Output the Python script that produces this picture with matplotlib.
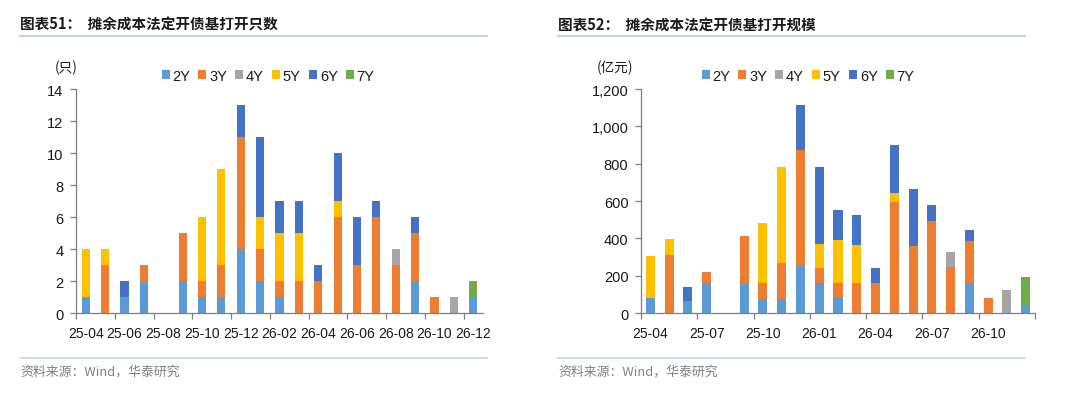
import matplotlib
matplotlib.use("Agg")
import matplotlib.pyplot as plt
import numpy as np
from matplotlib.ticker import FuncFormatter

plt.rcParams['font.family'] = ['Liberation Sans', 'Noto Sans CJK SC', 'DejaVu Sans']

months = ["25-04", "25-05", "25-06", "25-07", "25-08", "25-09", "25-10", "25-11", "25-12",
          "26-01", "26-02", "26-03", "26-04", "26-05", "26-06", "26-07", "26-08", "26-09",
          "26-10", "26-11", "26-12"]
series_names = ["2Y", "3Y", "4Y", "5Y", "6Y", "7Y"]
colors = ["#5B9BD5", "#ED7D31", "#A5A5A5", "#FFC000", "#4472C4", "#70AD47"]

# Chart 51: counts
cnt_2y = [1, 0, 1, 2, 0, 2, 1, 1, 4, 2, 1, 0, 0, 0, 0, 0, 0, 2, 0, 0, 1]
cnt_3y = [0, 3, 0, 1, 0, 3, 1, 2, 7, 2, 1, 2, 2, 6, 3, 6, 3, 3, 1, 0, 0]
cnt_4y = [0, 0, 0, 0, 0, 0, 0, 0, 0, 0, 0, 0, 0, 0, 0, 0, 1, 0, 0, 1, 0]
cnt_5y = [3, 1, 0, 0, 0, 0, 4, 6, 0, 2, 3, 3, 0, 1, 0, 0, 0, 0, 0, 0, 0]
cnt_6y = [0, 0, 1, 0, 0, 0, 0, 0, 2, 5, 2, 2, 1, 3, 3, 1, 0, 1, 0, 0, 0]
cnt_7y = [0, 0, 0, 0, 0, 0, 0, 0, 0, 0, 0, 0, 0, 0, 0, 0, 0, 0, 0, 0, 1]

# Chart 52: size (100 million yuan)
amt_2y = [78, 0, 64, 160, 0, 160, 77, 77, 255, 160, 78, 0, 0, 0, 0, 0, 0, 160, 0, 0, 41]
amt_3y = [0, 312, 0, 59, 0, 250, 83, 190, 618, 81, 82, 160, 160, 592, 360, 494, 246, 227, 80, 0, 0]
amt_4y = [0, 0, 0, 0, 0, 0, 0, 0, 0, 0, 0, 0, 0, 0, 0, 0, 82, 0, 0, 123, 0]
amt_5y = [227, 84, 0, 0, 0, 0, 321, 514, 0, 128, 229, 202, 0, 51, 0, 0, 0, 0, 0, 0, 0]
amt_6y = [0, 0, 77, 0, 0, 0, 0, 0, 241, 414, 165, 162, 81, 257, 305, 82, 0, 60, 0, 0, 0]
amt_7y = [0, 0, 0, 0, 0, 0, 0, 0, 0, 0, 0, 0, 0, 0, 0, 0, 0, 0, 0, 0, 150]

W, H = 1080, 414
fig = plt.figure(figsize=(W / 100, H / 100), dpi=100)

def px(x0, y0, x1, y1):
    return [x0 / W, 1 - y1 / H, (x1 - x0) / W, (y1 - y0) / H]

cjk = ['Noto Sans CJK SC', 'DejaVu Sans']

def panel(x_off, title, unit, unit_x, ax_rect, data, ylim, yticks, step, barw, fmt, leg_x):
    # title and rules
    fig.text((x_off) / W, 1 - 25 / H, title, family=cjk, fontsize=10.5, fontweight='bold',
             va='center', ha='left', color='#1a1a1a')
    fig.add_artist(plt.Line2D([x_off / W, (x_off + 467) / W], [1 - 37 / H, 1 - 37 / H],
                              color='#C7D4E4', lw=1.6))
    fig.add_artist(plt.Line2D([x_off / W, (x_off + 467) / W], [1 - 359 / H, 1 - 359 / H],
                              color='#C7D4E4', lw=1.2))
    fig.text(x_off / W, 1 - 372 / H, "资料来源：Wind，华泰研究", family=cjk, fontsize=9.3,
             color='#808080', va='center', ha='left')
    fig.text(unit_x / W, 1 - 68 / H, unit, family=cjk, fontsize=9.8, va='center', ha='left',
             color='#1a1a1a')

    ax = fig.add_axes(px(*ax_rect))
    x = np.arange(len(months))
    bottom = np.zeros(len(months))
    handles = []
    for name, vals, c in zip(series_names, data, colors):
        v = np.array(vals, dtype=float)
        b = ax.bar(x, v, bottom=bottom, width=barw, color=c, label=name, linewidth=0)
        handles.append(b)
        bottom += v
    ax.set_xlim(-0.5, len(months) - 0.5)
    ax.set_ylim(*ylim)
    ax.set_yticks(yticks)
    ax.yaxis.set_major_formatter(FuncFormatter(fmt))
    ax.set_xticks(x[::step])
    ax.set_xticklabels(months[::step])
    bnd = np.arange(-0.5, len(months) - 0.5 + 0.01, step)
    ax.set_xticks(bnd, minor=True)
    ax.tick_params(axis='x', which='major', length=0, pad=9, labelsize=10, colors='#1a1a1a')
    ax.tick_params(axis='x', which='minor', length=4, width=0.9, color='#7f7f7f', direction='out')
    ax.tick_params(axis='y', which='major', length=4, width=0.9, color='#7f7f7f', direction='out',
                   labelsize=10.5, labelcolor='#1a1a1a', pad=5)
    for s in ['top', 'right']:
        ax.spines[s].set_visible(False)
    for s in ['left', 'bottom']:
        ax.spines[s].set_color('#7f7f7f')
        ax.spines[s].set_linewidth(0.9)
    leg = fig.legend(handles=handles, loc='center', bbox_to_anchor=(leg_x / W, 1 - 77 / H),
                     ncol=6, frameon=False, handlelength=0.55, handleheight=0.55,
                     handletextpad=0.2, columnspacing=0.55, fontsize=10.5, borderaxespad=0)
    for t in leg.get_texts():
        t.set_color('#1a1a1a')
    return ax

panel(20, "图表51：  摊余成本法定开债基打开只数", "(只)", 55, (76, 90, 483, 314),
      [cnt_2y, cnt_3y, cnt_4y, cnt_5y, cnt_6y, cnt_7y], (0, 14), np.arange(0, 15, 2), 2, 0.42,
      lambda v, p: f"{int(v)}", 268)

panel(558, "图表52：  摊余成本法定开债基打开规模", "(亿元)", 597, (641, 90, 1035, 314),
      [amt_2y, amt_3y, amt_4y, amt_5y, amt_6y, amt_7y], (0, 1200), np.arange(0, 1201, 200), 3, 0.48,
      lambda v, p: f"{int(v):,}", 808)

fig.savefig("out.png", dpi=100)
